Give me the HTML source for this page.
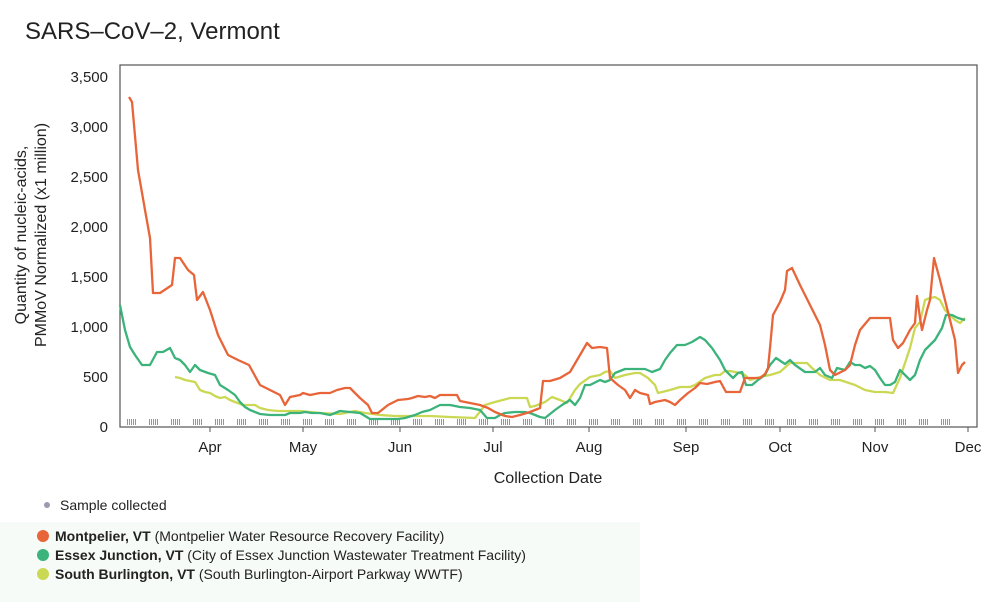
<!DOCTYPE html>
<html><head><meta charset="utf-8"><style>
body{margin:0;background:#fff;width:1000px;height:602px;overflow:hidden;font-family:"Liberation Sans",sans-serif}
</style></head><body>
<svg width="1000" height="602" viewBox="0 0 1000 602" xmlns="http://www.w3.org/2000/svg" font-family="Liberation Sans, sans-serif">
<defs>
<g id="grp"><path d="M0.5 419V425M2.5 419V425M4.5 419V425M6.5 419V425M8.5 419V425" stroke="#8a8a8a" stroke-width="0.9"/></g>
<g id="g4"><use href="#grp" x="0"/><use href="#grp" x="22"/><use href="#grp" x="44"/><use href="#grp" x="66"/></g>
</defs>
<rect x="0" y="522" width="640" height="80" fill="#f7fbf7"/>
<text x="25" y="39" font-size="24" fill="#222">SARS–CoV–2, Vermont</text>
<rect x="120" y="65" width="857" height="362" fill="#fff" stroke="#555" stroke-width="1.2"/>
<g>
<use href="#g4" x="127"/><use href="#g4" x="215"/><use href="#g4" x="303"/><use href="#g4" x="391"/><use href="#g4" x="479"/><use href="#g4" x="567"/><use href="#g4" x="655"/><use href="#g4" x="743"/><use href="#g4" x="831"/><use href="#grp" x="919"/><use href="#grp" x="941"/>
</g>
<g font-size="15" fill="#222" text-anchor="end">
<text x="108" y="432">0</text><text x="108" y="382">500</text><text x="108" y="332">1,000</text>
<text x="108" y="282">1,500</text><text x="108" y="232">2,000</text><text x="108" y="182">2,500</text>
<text x="108" y="132">3,000</text><text x="108" y="82">3,500</text>
</g>
<g stroke="#555" stroke-width="1">
<path d="M210 427v5M303 427v5M400 427v5M493 427v5M589 427v5M686 427v5M780 427v5M875 427v5M968 427v5"/>
</g>
<g font-size="15" fill="#222" text-anchor="middle">
<text x="210" y="452">Apr</text><text x="303" y="452">May</text><text x="400" y="452">Jun</text>
<text x="493" y="452">Jul</text><text x="589" y="452">Aug</text><text x="686" y="452">Sep</text>
<text x="780" y="452">Oct</text><text x="875" y="452">Nov</text><text x="968" y="452">Dec</text>
<text x="548" y="483" font-size="16">Collection Date</text>
</g>
<g font-size="16" fill="#222" text-anchor="middle">
<text transform="translate(26,235) rotate(-90)">Quantity of nucleic-acids,</text>
<text transform="translate(46,235) rotate(-90)">PMMoV Normalized (x1 million)</text>
</g>
<g fill="none" stroke-width="2.3" stroke-linejoin="round">
<polyline stroke="#cbd854" points="175,377 180,378 185,380 195,382 200,390 205,392 210,393 215,396 220,398 225,397 230,400 235,402 243,405 255,405 260,408 268,410 278,411 300,411 320,413 340,414 355,411 365,413 380,415 395,416 410,416 430,416 450,417 475,418 485,405 495,402 510,398 527,398 530,407 535,406 545,402 552,397 560,400 567,403 575,390 580,384 590,377 600,375 605,372 610,371 615,378 625,375 635,373 640,373 648,378 655,385 658,393 670,390 680,387 690,387 695,385 705,378 715,375 720,375 725,371 730,371 740,373 745,375 750,380 760,377 770,375 780,372 790,363 800,363 807,363 812,368 820,375 830,380 840,380 855,385 865,390 875,392 885,392 893,393 900,378 905,363 910,348 915,328 920,322 925,300 930,298 935,297 940,300 945,310 950,315 955,320 960,323 965,318"/>
<polyline stroke="#3bb37a" points="120,305 125,330 130,347 135,355 142,365 150,365 157,352 163,352 170,348 175,358 180,360 185,365 190,372 195,365 200,370 208,373 215,375 220,385 228,390 235,395 240,402 245,407 250,410 260,414 270,415 285,415 290,413 300,413 305,412 312,413 320,413 325,414 330,415 335,413 340,411 350,412 360,413 370,419 380,419 390,419 398,419 405,418 415,415 422,412 430,410 440,405 450,405 460,407 470,408 480,410 487,418 495,418 500,415 505,413 515,412 525,412 530,413 540,417 545,418 555,410 562,405 570,400 575,405 580,398 585,385 590,385 600,380 605,382 610,380 615,373 625,369 635,369 645,369 652,372 660,369 665,360 670,353 677,345 685,345 692,342 700,337 705,340 712,348 720,360 725,370 733,378 738,373 742,372 746,385 752,385 758,380 765,375 770,365 776,358 785,364 790,360 795,365 805,372 815,372 820,368 825,375 832,378 837,368 845,370 850,362 855,365 860,365 865,368 870,366 875,370 880,378 885,385 890,385 895,382 900,370 905,375 910,380 915,375 920,360 925,350 930,345 935,340 942,328 946,315 952,315 958,318 965,320"/>
<polyline stroke="#e8653a" points="129,97 132,102 138,170 145,210 150,238 153,293 160,293 172,285 175,258 180,258 188,270 194,275 197,300 203,292 210,310 218,335 228,355 238,360 249,365 260,385 270,390 280,395 285,405 290,397 300,395 303,393 310,395 320,393 330,393 337,390 345,388 350,388 360,398 368,405 372,413 378,413 388,405 398,400 408,399 412,398 418,396 425,397 430,396 435,398 440,395 448,395 457,395 460,401 470,403 480,405 488,408 495,412 505,416 512,417 520,415 530,412 540,408 543,381 550,381 560,378 570,372 580,355 587,343 592,348 600,347 607,348 610,378 618,385 625,390 630,398 635,390 640,393 648,395 650,404 655,402 665,400 670,402 675,405 680,400 688,393 695,388 700,383 707,384 715,382 720,381 726,392 735,392 740,392 745,378 755,378 760,378 765,374 768,368 770,348 773,315 780,302 785,290 787,271 792,268 800,285 810,305 820,325 825,345 830,370 835,375 845,370 850,365 855,345 860,330 870,318 878,318 885,318 890,318 893,340 898,348 903,343 910,330 915,323 917,296 920,318 922,330 927,310 930,300 934,258 940,280 945,300 950,320 955,340 958,373 962,365 965,362"/>
</g>
<circle cx="47" cy="505" r="3" fill="#9a9ab0"/>
<text x="60" y="510" font-size="14" fill="#222">Sample collected</text>
<circle cx="43" cy="536" r="6" fill="#e8653a"/>
<circle cx="43" cy="555" r="6" fill="#3bb37a"/>
<circle cx="43" cy="574" r="6" fill="#cbd854"/>
<g font-size="14" fill="#222">
<text x="55" y="541"><tspan font-weight="bold">Montpelier, VT</tspan> (Montpelier Water Resource Recovery Facility)</text>
<text x="55" y="560"><tspan font-weight="bold">Essex Junction, VT</tspan> (City of Essex Junction Wastewater Treatment Facility)</text>
<text x="55" y="579"><tspan font-weight="bold">South Burlington, VT</tspan> (South Burlington-Airport Parkway WWTF)</text>
</g>
</svg>
</body></html>
